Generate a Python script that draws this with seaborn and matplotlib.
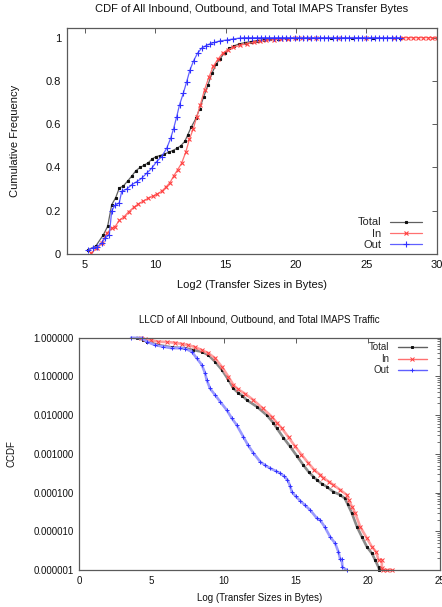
import matplotlib
matplotlib.use("Agg")
import numpy as np
import pandas as pd
import seaborn as sns
import matplotlib.pyplot as plt
from matplotlib.ticker import FixedLocator, FixedFormatter, LogLocator, NullFormatter, FuncFormatter

# ---------------- CDF of transfer sizes (log2 bytes) ----------------
total_x = [5.19, 5.78, 6.30, 6.61, 6.90, 7.18, 7.44, 7.72, 8.03, 8.32, 8.62, 8.91,
           9.19, 9.50, 9.78, 10.05, 10.33, 10.64, 10.95, 11.23, 11.52, 11.80, 12.09,
           12.30, 12.54, 12.89, 13.15, 13.44, 13.74, 14.02, 14.33, 14.58, 14.92,
           15.25, 15.60, 15.95, 16.35, 16.80, 17.20, 17.70, 18.15, 18.70, 19.30,
           20.00, 21.00, 22.50, 24.00, 25.50, 27.40]
total_y = [0.018, 0.038, 0.088, 0.128, 0.228, 0.260, 0.305, 0.314, 0.337, 0.360,
           0.385, 0.400, 0.410, 0.422, 0.440, 0.450, 0.455, 0.462, 0.470, 0.478,
           0.488, 0.500, 0.520, 0.550, 0.585, 0.627, 0.672, 0.727, 0.781, 0.835,
           0.878, 0.900, 0.930, 0.950, 0.962, 0.971, 0.977, 0.982, 0.986, 0.990,
           0.993, 0.995, 0.997, 0.999, 1.0, 1.0, 1.0, 1.0, 1.0]

in_x = [5.40, 5.83, 6.18, 6.54, 6.90, 7.13, 7.44, 7.77, 8.10, 8.45, 8.80, 9.15,
        9.50, 9.85, 10.15, 10.45, 10.76, 11.04, 11.30, 11.59, 11.87, 12.16, 12.42,
        12.70, 12.95, 13.20, 13.50, 13.82, 14.12, 14.45, 14.78, 15.15, 15.55,
        16.00, 16.50, 17.00, 17.45, 17.90, 18.40, 18.90, 19.40, 19.90, 20.40,
        20.90, 21.40, 23.00, 25.00, 27.00, 27.60, 27.95, 28.30, 28.65, 29.00,
        29.35, 29.70, 30.00]
in_y = [0.003, 0.026, 0.052, 0.095, 0.120, 0.126, 0.155, 0.172, 0.195, 0.215,
        0.232, 0.245, 0.258, 0.268, 0.278, 0.290, 0.310, 0.330, 0.360, 0.390,
        0.420, 0.470, 0.530, 0.580, 0.635, 0.690, 0.760, 0.820, 0.868, 0.900,
        0.928, 0.944, 0.955, 0.964, 0.972, 0.978, 0.983, 0.987, 0.990, 0.993,
        0.995, 0.997, 0.998, 0.999, 0.999, 1.0, 1.0, 1.0, 1.0, 1.0, 1.0, 1.0,
        1.0, 1.0, 1.0, 1.0]

out_x = [5.24, 5.59, 5.87, 6.19, 6.42, 6.73, 6.90, 7.13, 7.44, 7.61, 7.96, 8.32,
         8.67, 9.03, 9.38, 9.74, 10.09, 10.45, 10.81, 11.09, 11.30, 11.52, 11.72,
         11.99, 12.23, 12.46, 12.72, 13.00, 13.30, 13.60, 13.90, 14.20, 14.60,
         15.07, 15.54, 16.00, 16.30, 16.60, 16.90, 17.20, 17.50, 17.80, 18.10,
         18.40, 18.70, 19.00, 19.30, 19.60, 19.90, 20.20, 20.50, 20.80, 21.10,
         21.40, 21.70, 22.00, 22.30, 22.60, 22.90, 23.20, 23.50, 23.80, 24.10,
         24.40, 24.70, 25.00, 25.30, 25.60, 25.90, 26.20, 26.50, 26.80, 27.10,
         27.40]
out_y = [0.018, 0.030, 0.034, 0.050, 0.073, 0.090, 0.200, 0.225, 0.237, 0.290,
         0.300, 0.320, 0.334, 0.350, 0.373, 0.396, 0.427, 0.450, 0.489, 0.535,
         0.580, 0.635, 0.690, 0.743, 0.797, 0.850, 0.893, 0.928, 0.952, 0.963,
         0.972, 0.978, 0.985, 0.989, 0.994, 0.998, 1.0, 1.0, 1.0, 1.0, 1.0, 1.0,
         1.0, 1.0, 1.0, 1.0, 1.0, 1.0, 1.0, 1.0, 1.0, 1.0, 1.0, 1.0, 1.0, 1.0,
         1.0, 1.0, 1.0, 1.0, 1.0, 1.0, 1.0, 1.0, 1.0, 1.0, 1.0, 1.0, 1.0, 1.0,
         1.0, 1.0, 1.0, 1.0]

cdf_yticks = [0, 0.2, 0.4, 0.6, 0.8, 1.0]
cdf_yticklabels = ["0", "0.2", "0.4", "0.6", "0.8", "1"]
cdf_xticks = [5, 10, 15, 20, 25, 30]

# ---------------- LLCD (log10 of CCDF) ----------------
llcd_total_x = [4.00, 4.40, 4.67, 5.48, 6.41, 7.33, 7.91, 8.49, 8.95, 9.41, 9.88,
                10.34, 10.68, 11.00, 11.30, 11.61, 12.30, 12.99, 13.45, 13.69,
                14.14, 14.61, 15.07, 15.53, 15.90, 16.23, 16.46, 16.80, 17.16,
                17.61, 18.08, 18.40, 18.60, 18.89, 19.24, 19.58, 19.93, 20.28,
                20.50, 20.74, 20.80]
llcd_total_log = [0.00, -0.05, -0.10, -0.19, -0.25, -0.27, -0.32, -0.36, -0.45,
                  -0.62, -0.83, -1.09, -1.31, -1.42, -1.50, -1.61, -1.78, -2.00,
                  -2.20, -2.34, -2.58, -2.81, -3.05, -3.29, -3.47, -3.59, -3.67,
                  -3.77, -3.85, -3.98, -4.06, -4.15, -4.30, -4.53, -4.88, -5.14,
                  -5.40, -5.57, -5.74, -5.93, -6.00]

llcd_in_x = [4.30, 4.56, 5.00, 5.48, 6.05, 6.64, 7.10, 7.56, 8.00, 8.49, 8.95,
             9.41, 9.88, 10.34, 10.68, 11.00, 11.50, 12.07, 12.70, 13.34, 13.70,
             14.04, 14.50, 14.96, 15.40, 15.88, 16.30, 16.69, 16.92, 17.30, 17.61,
             18.08, 18.54, 18.66, 18.90, 19.12, 19.47, 19.93, 20.28, 20.57, 20.74,
             20.97, 20.97, 21.05, 21.30, 21.66]
llcd_in_log = [0.00, -0.04, -0.07, -0.10, -0.11, -0.13, -0.16, -0.19, -0.24,
               -0.32, -0.40, -0.53, -0.75, -1.01, -1.22, -1.33, -1.45, -1.61,
               -1.82, -2.04, -2.20, -2.34, -2.57, -2.81, -3.02, -3.24, -3.42,
               -3.54, -3.62, -3.72, -3.80, -3.93, -4.06, -4.19, -4.36, -4.53,
               -4.88, -5.18, -5.40, -5.53, -5.74, -5.74, -5.95, -6.00, -6.00,
               -6.00]

llcd_out_x = [3.59, 4.33, 4.67, 5.25, 5.80, 6.40, 7.00, 7.33, 7.79, 8.14, 8.49,
              8.72, 8.83, 9.06, 9.41, 9.76, 10.22, 10.57, 10.90, 11.37, 11.70,
              12.07, 12.53, 12.90, 13.22, 13.60, 13.92, 14.20, 14.43, 14.60, 14.73,
              15.00, 15.31, 15.65, 16.00, 16.46, 16.69, 17.00, 17.38, 17.73, 17.96,
              18.08, 18.19, 18.24, 18.54]
llcd_out_log = [0.00, -0.01, -0.10, -0.19, -0.23, -0.27, -0.27, -0.28, -0.36,
                -0.53, -0.70, -0.92, -1.09, -1.31, -1.48, -1.65, -1.87, -2.08,
                -2.25, -2.56, -2.78, -2.98, -3.20, -3.30, -3.37, -3.44, -3.50,
                -3.58, -3.67, -3.82, -3.98, -4.10, -4.21, -4.33, -4.45, -4.66,
                -4.71, -4.88, -5.14, -5.31, -5.53, -5.72, -5.72, -5.93, -6.00]

llcd_xticks = [0, 5, 10, 15, 20, 25]
llcd_yticks = [1e-6, 1e-5, 1e-4, 1e-3, 1e-2, 1e-1, 1.0]

series_names = ["Total", "In", "Out"]
colors = {"Total": "#111111", "In": "#ff4040", "Out": "#3030ff"}
line_colors = {"Total": "#606060", "In": "#ff7070", "Out": "#6060ff"}
band_colors = {"Total": "#8a8a8a", "In": "#ffa0a0", "Out": "#9a9aff"}
markers = {"Total": "s", "In": "x", "Out": "+"}

sns.set_theme(style="white")
plt.rcParams["font.family"] = ["Liberation Sans", "DejaVu Sans"]

W, H = 442, 607
fig = plt.figure(figsize=(W / 100, H / 100), dpi=100)
fig.patch.set_facecolor("white")

spine_c = "#5a5a5a"


def style_axes(ax, fs):
    for s in ax.spines.values():
        s.set_color(spine_c)
        s.set_linewidth(0.9)
    ax.tick_params(axis="both", which="both", direction="in", top=True, right=True,
                   color=spine_c, labelsize=fs, labelcolor="#111111")
    ax.tick_params(which="major", length=3.5, width=0.7, pad=4)
    ax.tick_params(which="minor", length=2, width=0.6)


def right_aligned_legend(ax, fs, **kw):
    leg = ax.legend(frameon=False, markerfirst=False, fontsize=fs, numpoints=1, **kw)
    for col in leg._legend_handle_box.get_children():
        col.align = "right"
    return leg


# ---------- top panel ----------
ax1 = fig.add_axes([66.7 / W, 1 - 254 / H, 370 / W, 226.3 / H])
cdf_data = {"Total": (total_x, total_y), "In": (in_x, in_y), "Out": (out_x, out_y)}
msize = {"Total": 2.0, "In": 3.2, "Out": 4.0}
for name in series_names:
    xs, ys = cdf_data[name]
    df = pd.DataFrame({"x": xs, "y": ys})
    sns.lineplot(data=df, x="x", y="y", ax=ax1, sort=False, estimator=None,
                 color=line_colors[name], lw=0.9, marker=markers[name],
                 ms=msize[name], mec=colors[name], mfc=colors[name], mew=0.8,
                 label=name)
ax1.set_xlim(3.7, 30)
ax1.set_ylim(0, 1.046)
ax1.xaxis.set_major_locator(FixedLocator(cdf_xticks))
ax1.yaxis.set_major_locator(FixedLocator(cdf_yticks))
ax1.yaxis.set_major_formatter(FixedFormatter(cdf_yticklabels))
style_axes(ax1, 8)
ax1.set_xlabel("Log2 (Transfer Sizes in Bytes)", fontsize=8, color="#111111")
ax1.set_ylabel("Cumulative Frequency", fontsize=8, color="#111111")
ax1.xaxis.set_label_coords(0.5, -0.117)
ax1.yaxis.set_label_coords(-0.127, 0.5)
fig.text((66.7 + 185) / W, 1 - 8.5 / H,
         "CDF of All Inbound, Outbound, and Total IMAPS Transfer Bytes",
         ha="center", va="center", fontsize=8, color="#111111")
right_aligned_legend(ax1, 8, loc="lower right", bbox_to_anchor=(0.985, -0.022),
                     handlelength=2.9, handletextpad=0.8, labelspacing=0.12,
                     borderpad=0.3)

# ---------- bottom panel ----------
ax2 = fig.add_axes([79.3 / W, 1 - 570 / H, 360.7 / W, 232.3 / H])
llcd_data = {"Total": (llcd_total_x, llcd_total_log),
             "In": (llcd_in_x, llcd_in_log),
             "Out": (llcd_out_x, llcd_out_log)}
msize2 = {"Total": 1.8, "In": 2.6, "Out": 3.0}
for name in series_names:
    xs, ls = llcd_data[name]
    df = pd.DataFrame({"x": xs, "ccdf": np.power(10.0, ls)})
    sns.lineplot(data=df, x="x", y="ccdf", ax=ax2, sort=False, estimator=None,
                 color=band_colors[name], lw=1.9, marker=markers[name],
                 ms=msize2[name], mec=colors[name], mfc=colors[name], mew=0.7,
                 label=name, clip_on=False)
ax2.set_yscale("log")
ax2.set_xlim(0, 25)
ax2.set_ylim(1e-6, 1.0)
ax2.xaxis.set_major_locator(FixedLocator(llcd_xticks))
ax2.yaxis.set_major_locator(FixedLocator(llcd_yticks))
ax2.yaxis.set_major_formatter(FuncFormatter(lambda v, p: f"{v:.6f}"))
ax2.yaxis.set_minor_locator(LogLocator(base=10, subs=np.arange(2, 10), numticks=20))
ax2.yaxis.set_minor_formatter(NullFormatter())
style_axes(ax2, 7)
ax2.set_xlabel("Log (Transfer Sizes in Bytes)", fontsize=7, color="#111111")
ax2.set_ylabel("CCDF", fontsize=7, color="#111111")
ax2.xaxis.set_label_coords(0.5, -0.099)
ax2.yaxis.set_label_coords(-0.173, 0.5)
fig.text((79.3 + 180.3) / W, 1 - 319.3 / H,
         "LLCD of All Inbound, Outbound, and Total IMAPS Traffic",
         ha="center", va="center", fontsize=7, color="#111111")
leg2 = right_aligned_legend(ax2, 7, loc="upper right", bbox_to_anchor=(0.985, 1.013),
                            handlelength=3.0, handletextpad=0.9, labelspacing=0.15,
                            borderpad=0.3)
for h, name in zip(leg2.legend_handles, series_names):
    h.set_color(line_colors[name])
    h.set_linewidth(1.0)
    h.set_markeredgecolor(colors[name])
    h.set_markerfacecolor(colors[name])

fig.savefig("out.png", dpi=100, facecolor="white")
